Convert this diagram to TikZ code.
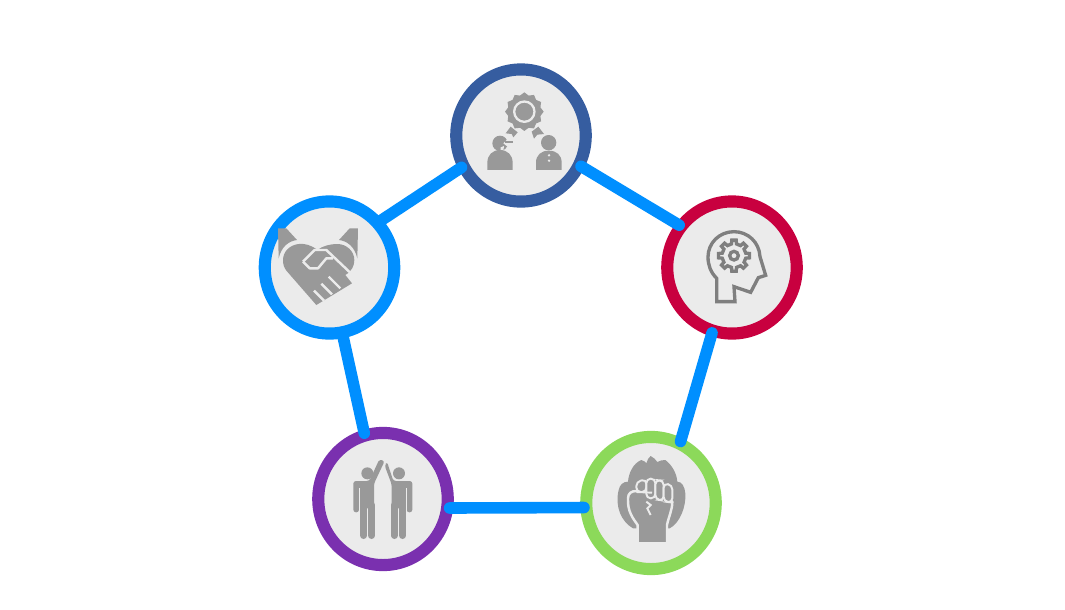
\documentclass[tikz,border=0pt]{standalone}
\usetikzlibrary{shapes.geometric}
\definecolor{ringgray}{HTML}{EBEBEB}
\definecolor{icongray}{HTML}{999999}
\definecolor{linegray}{HTML}{7F7F7F}
\definecolor{linkblue}{HTML}{008FFF}
\definecolor{ringnavy}{HTML}{365DA0}
\definecolor{ringred}{HTML}{C8003F}
\definecolor{ringpurple}{HTML}{7A30AF}
\definecolor{ringgreen}{HTML}{8CD95A}
\begin{document}
\begin{tikzpicture}[x=0.02cm, y=-0.02cm,
    ring/.style={ellipse, fill=ringgray, line width=6.9pt, minimum width=73.7pt, minimum height=75.2pt, inner sep=0pt, outer sep=0pt},
    link/.style={linkblue, line width=6.6pt, line cap=round, shorten >=1.4pt, shorten <=1.4pt},
    zoomed/.style={x=0.006667cm, y=-0.006667cm},
    cut/.style={ringgray, line width=1.4pt}]
    \useasboundingbox (0,0) rectangle (1065,609);
    \node[ring, draw=ringnavy] (award) at (521,135.5) {};
    \node[ring, draw=ringred] (brain) at (732,267.5) {};
    \node[ring, draw=ringgreen] (fist) at (651,503) {};
    \node[ring, draw=ringpurple] (cheer) at (383,499) {};
    \node[ring, draw=linkblue] (shake) at (329.5,267.5) {};
    \draw[link] (award.-27) -- (brain.141);
    \draw[link] (brain.-107) -- (fist.64.5);
    \draw[link] (fist.184.5) -- (cheer.-8.2);
    \draw[link] (cheer.106) -- (shake.-79.5);
    \draw[link] (shake.43) -- (award.208);
    % award
    \begin{scope}[shift={(450,60)}, zoomed]
        \node[star, star points=12, star point ratio=1.16, fill=icongray, minimum size=22pt, inner sep=0pt] (badge) at (223,155) {};
        \draw[cut, line width=1.3pt] (223,155) circle (30.5);
        \fill[icongray] (167,220)--(182,200)--(203,217)--(190,232)--(185,222)--cycle;
        \fill[icongray] (245,215)--(265,200)--(282,222)--(262,224)--(252,236)--cycle;
        \fill[icongray] (150,250) circle (23);
        \fill[ringgray] (160,250)--(180,230)--(192,236)--(192,258)--(170,258)--cycle;
        \fill[ringgray] (152,262)--(162,258)--(160,272)--(152,272)--cycle;
        \fill[icongray] (166,242) rectangle (189,249);
        \fill[icongray] (112,330)--(112,308) .. controls (112,285) and (128,270) .. (150,270) .. controls (172,270) and (188,285) .. (188,308)--(188,330)--cycle;
        \fill[icongray] (296,248) circle (23);
        \fill[icongray] (258,330)--(258,308) .. controls (258,285) and (274,272) .. (296,272) .. controls (320,272) and (335,285) .. (335,308)--(335,330)--cycle;
        \fill[ringgray] (297,286) circle (4);
        \fill[ringgray] (297,302) circle (4);
    \end{scope}
    % head with gear
    \begin{scope}[shift={(660,195)}, zoomed]
        \draw[linegray, line width=1.9pt, miter limit=3] (170,320)--(170,250) .. controls (152,232) and (144,210) .. (144,186) .. controls (144,144) and (178,110) .. (222,110) .. controls (264,110) and (298,142) .. (300,185)--(317,241)--(295,248)--(272,292)--(222,275)--(225,320)--cycle;
        \draw[linegray, line width=1.9pt] (222,182) circle (13);
        \begin{scope}[shift={(222,182)}]
            \draw[linegray, line width=1.9pt] (-12:36) \foreach \a in {0,45,...,315}{--(\a-12:36)--(\a-8:47)--(\a+8:47)--(\a+12:36)}--cycle;
        \end{scope}
    \end{scope}
    % heart and hands
    \begin{scope}[shift={(258,195)}, zoomed]
        \fill[icongray] (60,100)--(85,100)--(117,135) .. controls (92,138) and (70,155) .. (62,190)--cycle;
        \fill[icongray] (300,100)--(275,100)--(243,135) .. controls (268,138) and (290,155) .. (298,190)--cycle;
        \fill[icongray] (178,165) .. controls (160,150) and (140,145) .. (122,147) .. controls (95,150) and (75,170) .. (75,195) .. controls (75,208) and (78,218) .. (86,228)--(175,330)--(282,265)--(262,240) .. controls (282,228) and (289,212) .. (289,195) .. controls (289,168) and (265,147) .. (238,147) .. controls (218,147) and (195,152) .. (178,165)--cycle;
        \draw[cut, line join=round] (135,200)--(170,165)--(205,165)--(282,238);
        \draw[cut, line join=round] (135,200)--(155,220)--(180,220)--(205,190)--(225,190);
        \draw[cut] (168,287)--(198,317);
        \draw[cut] (190,266)--(222,298);
        \draw[cut] (212,245)--(247,280);
    \end{scope}
    % two figures
    \begin{scope}[shift={(310,425)}, zoomed]
        \fill[icongray] (172,145) circle (18);
        \fill[icongray] (267,145) circle (18);
        \fill[icongray, rounded corners=1.5pt] (130,262)--(130,168)--(178,168)--(208,103)--(224,108)--(192,176)--(192,250)--(147,250)--(147,262)--cycle;
        \fill[icongray, rounded corners=1.5pt] (307,262)--(307,168)--(250,168)--(231,110)--(224,122)--(245,178)--(245,250)--(290,250)--(290,262)--cycle;
        \draw[icongray, line width=3.8pt, line cap=round] (161,240)--(161,332);
        \draw[icongray, line width=3.8pt, line cap=round] (185,240)--(185,332);
        \draw[icongray, line width=3.8pt, line cap=round] (253,240)--(253,332);
        \draw[icongray, line width=3.8pt, line cap=round] (278,240)--(278,332);
        \draw[cut, line width=0.5pt] (148.5,190)--(148.5,262);
        \draw[cut, line width=0.5pt] (289,190)--(289,262);
    \end{scope}
    % raised fist
    \begin{scope}[shift={(578,430)}, zoomed]
        \fill[icongray] (165,295) .. controls (130,275) and (110,230) .. (122,180) .. controls (125,165) and (135,155) .. (150,155) .. controls (152,130) and (165,100) .. (190,90) .. controls (198,92) and (202,96) .. (205,100) .. controls (208,90) and (212,82) .. (218,78) .. controls (228,82) and (233,90) .. (238,96) .. controls (245,92) and (252,90) .. (262,90) .. controls (282,105) and (296,130) .. (298,155) .. controls (312,155) and (320,170) .. (322,190) .. controls (325,230) and (305,280) .. (275,295)--cycle;
        \draw[cut, fill=icongray, line join=round] (179,340)--(179,285) .. controls (165,265) and (148,245) .. (150,205) .. controls (150,190) and (160,183) .. (175,183)--(230,185)--(283,215) .. controls (283,240) and (272,260) .. (267,285)--(267,340)--cycle;
        \draw[cut, fill=icongray, line width=1.1pt, rounded corners=2.5pt] (175,186)--(175,155)--(205,148)--(205,186)--cycle;
        \draw[cut, fill=icongray, line width=1.1pt, rounded corners=2.5pt] (205,205)--(205,146)--(232,146)--(232,205)--cycle;
        \draw[cut, fill=icongray, line width=1.1pt, rounded corners=2.5pt] (232,208)--(232,150)--(257,152)--(257,212)--cycle;
        \draw[cut, fill=icongray, line width=1.1pt, rounded corners=2.5pt] (257,214)--(257,160)--(283,165)--(283,218)--cycle;
        \draw[cut, line width=1.1pt] (175,186)--(222,188);
        \draw[cut, line width=1.1pt] (205,215)--(218,225)--(208,235)--(218,255);
    \end{scope}
\end{tikzpicture}
\end{document}
